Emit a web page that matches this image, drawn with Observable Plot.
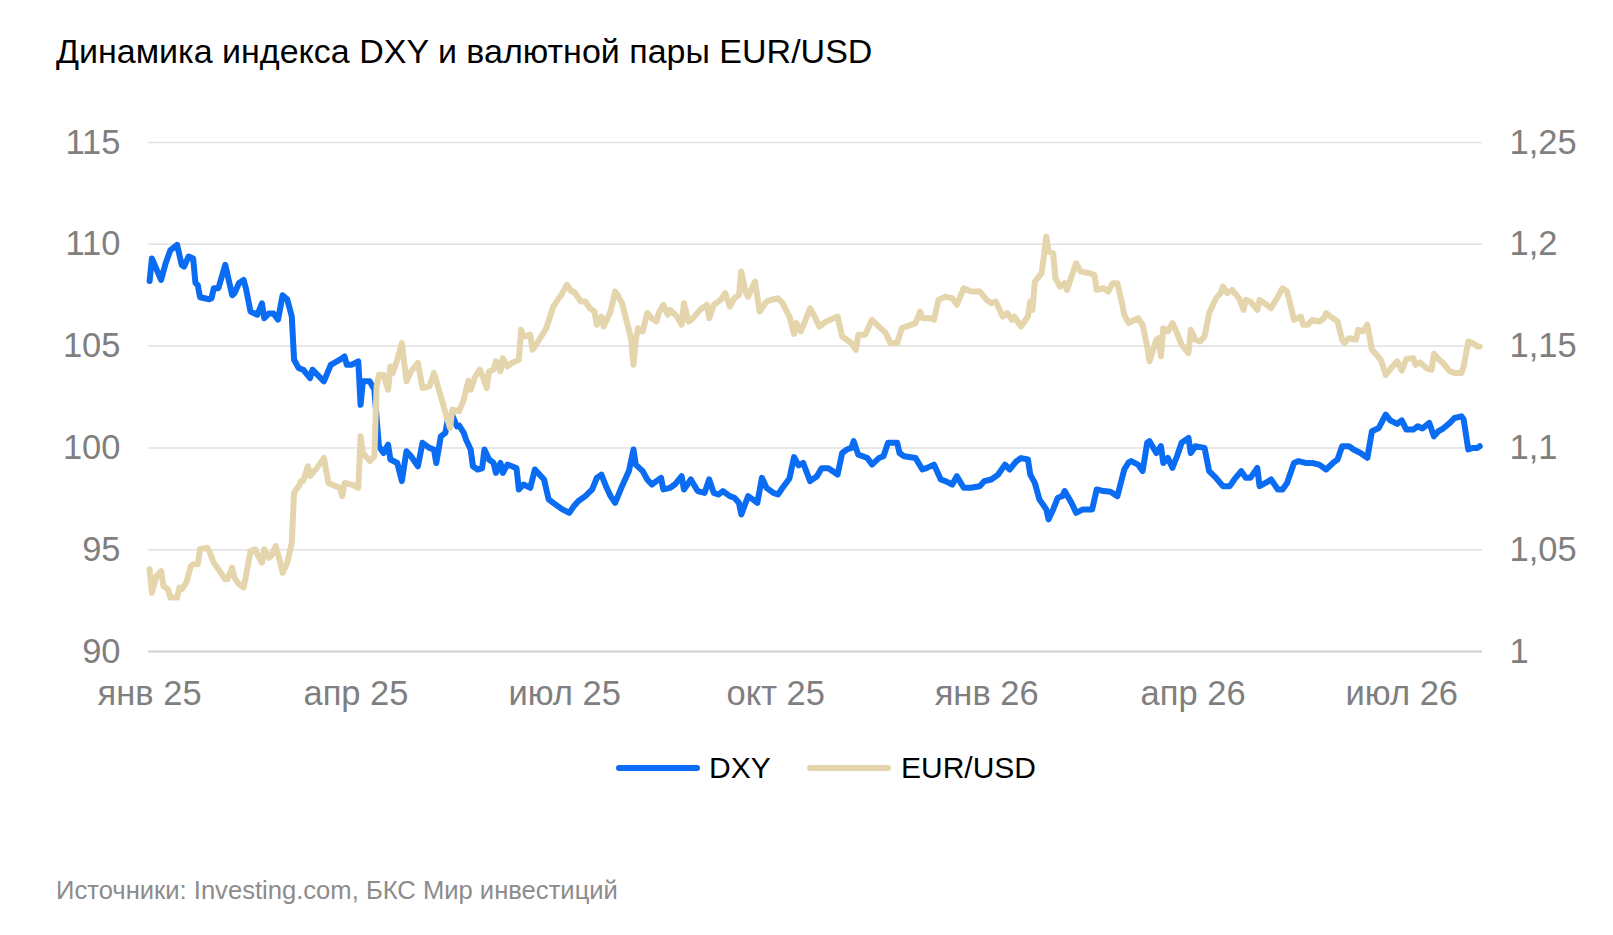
<!DOCTYPE html>
<html>
<head>
<meta charset="utf-8">
<script src="https://cdn.jsdelivr.net/npm/d3@7"></script>
<script src="https://cdn.jsdelivr.net/npm/@observablehq/plot@0.6"></script>
<style>
  html, body { margin: 0; padding: 0; background: #fff; }
  body { width: 1613px; height: 935px; position: relative; overflow: hidden; font-family: "Liberation Sans", Arial, sans-serif; }
  #title { position: absolute; left: 56px; top: 34px; font-size: 34px; line-height: 34px; color: #000; white-space: nowrap; }
  #chart { position: absolute; left: 0; top: 100px; }
  .sw { position: absolute; top: 765px; height: 6px; border-radius: 3px; width: 84px; }
  .lt { position: absolute; top: 753px; font-size: 30px; line-height: 30px; color: #000; white-space: nowrap; }
  #footer { position: absolute; left: 56px; top: 877px; font-size: 25.6px; line-height: 26px; color: #8c8c8c; white-space: nowrap; }
</style>
</head>
<body>
<div id="title"></div>
<div id="chart"></div>
<div id="legend"></div>
<div id="footer"></div>
<script>
const titleText = "Динамика индекса DXY и валютной пары EUR/USD";
const footerText = "Источники: Investing.com, БКС Мир инвестиций";
const seriesNames = ["DXY", "EUR/USD"];
const seriesColors = ["#0a6cf2", "#e5d5ac"];

const yTicks = [90, 95, 100, 105, 110, 115];
const eurTicks = [1, 1.05, 1.1, 1.15, 1.2, 1.25];
const eurTickLabels = ["1", "1,05", "1,1", "1,15", "1,2", "1,25"];
const xTickDates = ["2025-01-01", "2025-04-01", "2025-07-01", "2025-10-01", "2026-01-01", "2026-04-01", "2026-07-01"];
const xTickLabels = ["янв 25", "апр 25", "июл 25", "окт 25", "янв 26", "апр 26", "июл 26"];

const dxyDates = [
"2025-01-01","2025-01-02","2025-01-06","2025-01-08","2025-01-10","2025-01-13","2025-01-15","2025-01-16","2025-01-18","2025-01-20",
"2025-01-21","2025-01-22","2025-01-23","2025-01-27","2025-01-28","2025-01-29","2025-01-31","2025-02-03","2025-02-06","2025-02-07",
"2025-02-09","2025-02-11","2025-02-12","2025-02-14","2025-02-17","2025-02-19","2025-02-20","2025-02-22","2025-02-24","2025-02-26",
"2025-02-28","2025-03-02","2025-03-04","2025-03-05","2025-03-07","2025-03-09","2025-03-12","2025-03-13","2025-03-18","2025-03-21",
"2025-03-25","2025-03-27","2025-03-28","2025-03-30","2025-04-02","2025-04-03","2025-04-04","2025-04-07","2025-04-09","2025-04-11",
"2025-04-13","2025-04-15","2025-04-16","2025-04-19","2025-04-21","2025-04-23","2025-04-25","2025-04-28","2025-04-30","2025-05-03",
"2025-05-05","2025-05-06","2025-05-08","2025-05-10","2025-05-11","2025-05-13","2025-05-15","2025-05-16","2025-05-18","2025-05-19",
"2025-05-21","2025-05-22","2025-05-24","2025-05-26","2025-05-27","2025-05-29","2025-05-31","2025-06-01","2025-06-03","2025-06-04",
"2025-06-06","2025-06-08","2025-06-10","2025-06-11","2025-06-13","2025-06-16","2025-06-18","2025-06-20","2025-06-22","2025-06-24",
"2025-06-26","2025-06-30","2025-07-03","2025-07-05","2025-07-07","2025-07-10","2025-07-13","2025-07-15","2025-07-17","2025-07-19",
"2025-07-21","2025-07-23","2025-07-26","2025-07-29","2025-07-31","2025-08-01","2025-08-04","2025-08-06","2025-08-08","2025-08-10",
"2025-08-12","2025-08-13","2025-08-16","2025-08-18","2025-08-21","2025-08-22","2025-08-25","2025-08-28","2025-08-31","2025-09-02",
"2025-09-04","2025-09-06","2025-09-08","2025-09-11","2025-09-13","2025-09-15","2025-09-16","2025-09-19","2025-09-21","2025-09-23",
"2025-09-25","2025-09-27","2025-09-30","2025-10-02","2025-10-04","2025-10-07","2025-10-09","2025-10-11","2025-10-13","2025-10-16",
"2025-10-19","2025-10-21","2025-10-24","2025-10-28","2025-10-30","2025-11-01","2025-11-03","2025-11-04","2025-11-06","2025-11-08",
"2025-11-10","2025-11-12","2025-11-15","2025-11-17","2025-11-19","2025-11-23","2025-11-24","2025-11-26","2025-12-01","2025-12-04",
"2025-12-06","2025-12-09","2025-12-12","2025-12-14","2025-12-17","2025-12-19","2025-12-22","2025-12-25","2025-12-29","2025-12-31",
"2026-01-03","2026-01-06","2026-01-09","2026-01-11","2026-01-14","2026-01-16","2026-01-19","2026-01-20","2026-01-22","2026-01-24",
"2026-01-27","2026-01-28","2026-01-30","2026-02-01","2026-02-03","2026-02-04","2026-02-07","2026-02-09","2026-02-12","2026-02-16",
"2026-02-18","2026-02-21","2026-02-24","2026-02-27","2026-03-02","2026-03-04","2026-03-05","2026-03-08","2026-03-10","2026-03-12",
"2026-03-13","2026-03-16","2026-03-18","2026-03-19","2026-03-21","2026-03-23","2026-03-25","2026-03-27","2026-03-30","2026-03-31",
"2026-04-02","2026-04-06","2026-04-08","2026-04-11","2026-04-14","2026-04-17","2026-04-19","2026-04-22","2026-04-24","2026-04-26",
"2026-04-29","2026-04-30","2026-05-04","2026-05-05","2026-05-08","2026-05-10","2026-05-12","2026-05-15","2026-05-17","2026-05-20",
"2026-05-23","2026-05-26","2026-05-29","2026-06-01","2026-06-03","2026-06-05","2026-06-08","2026-06-10","2026-06-13","2026-06-16",
"2026-06-18","2026-06-21","2026-06-24","2026-06-26","2026-06-29","2026-07-01","2026-07-03","2026-07-06","2026-07-08","2026-07-10",
"2026-07-13","2026-07-15","2026-07-17","2026-07-19","2026-07-22","2026-07-24","2026-07-27","2026-07-28","2026-07-30","2026-08-01",
"2026-08-03","2026-08-04"
];
const dxyValues = [
108.2,109.3,108.25,109.07,109.7,109.97,108.99,108.9,109.4,109.3,
108.1,108.0,107.4,107.3,107.35,107.84,107.84,108.99,107.5,107.6,
108.1,108.25,107.84,106.7,106.54,107.1,106.37,106.6,106.6,106.3,
107.5,107.3,106.45,104.33,103.92,103.84,103.43,103.84,103.27,104.08,
104.33,104.49,104.08,104.08,104.25,102.12,103.27,103.27,102.86,100.08,
99.75,100.16,99.43,99.26,98.37,99.84,99.59,99.1,100.25,100.0,
99.92,99.26,100.57,100.74,101.39,101.6,101.06,101.1,100.74,100.4,
99.92,99.1,98.94,99.0,99.92,99.43,99.26,98.77,99.26,98.77,
99.18,99.1,99.0,97.96,98.2,98.04,98.94,98.69,98.45,97.47,
97.3,96.98,96.81,97.14,97.39,97.63,97.96,98.53,98.69,98.12,
97.63,97.3,98.12,98.86,99.92,99.18,98.86,98.45,98.2,98.37,
98.53,97.96,98.04,98.2,98.61,97.96,98.45,97.88,97.79,98.45,
97.79,97.71,97.88,97.63,97.55,97.3,96.73,97.63,97.47,97.3,
98.53,98.04,97.79,97.71,98.04,98.5,99.55,99.14,99.26,98.37,
98.61,99.0,99.0,98.69,99.75,99.92,100.0,100.33,99.67,99.59,
99.5,99.18,99.5,99.59,100.25,100.25,99.75,99.59,99.5,98.94,
99.02,99.18,98.45,98.37,98.2,98.61,98.04,98.04,98.12,98.37,
98.45,98.69,99.18,98.94,99.35,99.5,99.43,98.69,98.28,97.47,
96.98,96.49,96.98,97.55,97.63,97.88,97.3,96.81,96.98,96.98,
97.96,97.88,97.85,97.63,98.94,99.3,99.35,99.18,98.86,100.25,
100.33,99.75,100.08,99.26,99.51,99.02,99.59,100.25,100.49,99.75,
100.08,100.0,98.86,98.53,98.12,98.12,98.45,98.86,98.53,98.53,
99.02,98.12,98.37,98.45,97.96,97.96,98.28,99.26,99.35,99.26,
99.26,99.18,98.94,99.26,99.43,100.08,100.08,99.92,99.75,99.51,
100.82,100.98,101.63,101.35,101.18,101.35,100.9,100.9,101.06,100.95,
101.23,100.57,100.82,100.95,101.23,101.47,101.55,101.39,99.92,100.0,
100.0,100.08
];

const eurDates = [
"2025-01-01","2025-01-02","2025-01-04","2025-01-06","2025-01-07","2025-01-09","2025-01-10","2025-01-13","2025-01-14","2025-01-15",
"2025-01-17","2025-01-19","2025-01-20","2025-01-22","2025-01-23","2025-01-26","2025-01-27","2025-01-29","2025-01-31","2025-02-03",
"2025-02-04","2025-02-06","2025-02-07","2025-02-09","2025-02-11","2025-02-12","2025-02-14","2025-02-16","2025-02-17","2025-02-19",
"2025-02-20","2025-02-22","2025-02-23","2025-02-25","2025-02-27","2025-02-28","2025-03-02","2025-03-04","2025-03-05","2025-03-07",
"2025-03-08","2025-03-09","2025-03-11","2025-03-12","2025-03-15","2025-03-18","2025-03-20","2025-03-23","2025-03-25","2025-03-26",
"2025-03-27","2025-03-30","2025-04-02","2025-04-03","2025-04-04","2025-04-07","2025-04-09","2025-04-10","2025-04-11","2025-04-13",
"2025-04-15","2025-04-16","2025-04-17","2025-04-19","2025-04-21","2025-04-23","2025-04-25","2025-04-28","2025-04-30","2025-05-03",
"2025-05-05","2025-05-08","2025-05-10","2025-05-12","2025-05-13","2025-05-16","2025-05-18","2025-05-20","2025-05-21","2025-05-23",
"2025-05-25","2025-05-26","2025-05-28","2025-05-29","2025-05-31","2025-06-01","2025-06-03","2025-06-04","2025-06-06","2025-06-08",
"2025-06-11","2025-06-12","2025-06-13","2025-06-16","2025-06-17","2025-06-19","2025-06-23","2025-06-26","2025-06-30","2025-07-02",
"2025-07-04","2025-07-05","2025-07-08","2025-07-10","2025-07-12","2025-07-14","2025-07-15","2025-07-17","2025-07-18","2025-07-21",
"2025-07-23","2025-07-24","2025-07-26","2025-07-29","2025-07-30","2025-07-31","2025-08-01","2025-08-02","2025-08-04","2025-08-06",
"2025-08-08","2025-08-10","2025-08-11","2025-08-13","2025-08-15","2025-08-16","2025-08-19","2025-08-21","2025-08-22","2025-08-24",
"2025-08-26","2025-08-29","2025-09-01","2025-09-02","2025-09-04","2025-09-07","2025-09-09","2025-09-11","2025-09-13","2025-09-15",
"2025-09-16","2025-09-18","2025-09-19","2025-09-22","2025-09-24","2025-09-27","2025-09-29","2025-10-02","2025-10-04","2025-10-07",
"2025-10-09","2025-10-10","2025-10-12","2025-10-16","2025-10-18","2025-10-20","2025-10-23","2025-10-28","2025-10-30","2025-11-01",
"2025-11-03","2025-11-05","2025-11-06","2025-11-09","2025-11-12","2025-11-15","2025-11-18","2025-11-20","2025-11-23","2025-11-25",
"2025-12-01","2025-12-03","2025-12-04","2025-12-08","2025-12-09","2025-12-11","2025-12-14","2025-12-17","2025-12-19","2025-12-22",
"2025-12-25","2025-12-29","2026-01-01","2026-01-03","2026-01-05","2026-01-08","2026-01-10","2026-01-12","2026-01-13","2026-01-16",
"2026-01-19","2026-01-20","2026-01-21","2026-01-22","2026-01-25","2026-01-27","2026-01-28","2026-01-30","2026-01-31","2026-02-02",
"2026-02-04","2026-02-05","2026-02-09","2026-02-11","2026-02-15","2026-02-17","2026-02-18","2026-02-21","2026-02-23","2026-02-25",
"2026-02-27","2026-03-01","2026-03-02","2026-03-04","2026-03-05","2026-03-08","2026-03-10","2026-03-12","2026-03-13","2026-03-16",
"2026-03-17","2026-03-18","2026-03-19","2026-03-21","2026-03-23","2026-03-25","2026-03-27","2026-03-30","2026-03-31","2026-04-02",
"2026-04-04","2026-04-06","2026-04-08","2026-04-11","2026-04-13","2026-04-14","2026-04-16","2026-04-18","2026-04-21","2026-04-23",
"2026-04-24","2026-04-26","2026-04-29","2026-04-30","2026-05-03","2026-05-05","2026-05-08","2026-05-10","2026-05-12","2026-05-14",
"2026-05-15","2026-05-18","2026-05-19","2026-05-21","2026-05-23","2026-05-26","2026-05-28","2026-05-29","2026-05-31","2026-06-03",
"2026-06-05","2026-06-06","2026-06-08","2026-06-11","2026-06-12","2026-06-14","2026-06-16","2026-06-18","2026-06-20","2026-06-22",
"2026-06-24","2026-06-27","2026-06-29","2026-07-01","2026-07-03","2026-07-06","2026-07-07","2026-07-09","2026-07-12","2026-07-14",
"2026-07-15","2026-07-17","2026-07-19","2026-07-22","2026-07-24","2026-07-27","2026-07-28","2026-07-30","2026-08-01","2026-08-03",
"2026-08-04"
];
const eurValues = [
1.0404,1.0289,1.0371,1.0395,1.0322,1.0306,1.0265,1.0265,1.0314,1.0306,
1.0338,1.042,1.0428,1.0428,1.0502,1.051,1.0493,1.0436,1.0404,1.0355,
1.0355,1.0412,1.0363,1.033,1.0314,1.0371,1.0493,1.0502,1.0477,1.0436,
1.0502,1.046,1.0469,1.0518,1.0436,1.0387,1.0436,1.0534,1.078,1.0812,
1.0837,1.0837,1.091,1.0861,1.0902,1.0951,1.0828,1.0812,1.0804,1.0763,
1.0828,1.082,1.0804,1.1057,1.0975,1.0935,1.0959,1.1302,1.1359,1.1359,
1.1286,1.14,1.1368,1.1433,1.1515,1.1327,1.1376,1.1417,1.1294,1.1302,
1.1368,1.1253,1.1172,1.1098,1.1188,1.118,1.1237,1.133,1.1286,1.1351,
1.1384,1.1359,1.1294,1.1376,1.1384,1.1425,1.1376,1.1441,1.14,1.1417,
1.1433,1.158,1.1547,1.1556,1.1482,1.1515,1.1588,1.1694,1.176,1.1801,
1.1768,1.1768,1.1719,1.1719,1.1686,1.167,1.1605,1.1645,1.1596,1.167,
1.1768,1.1752,1.1711,1.158,1.1531,1.1408,1.1531,1.1588,1.1572,1.1662,
1.1637,1.1621,1.1662,1.1703,1.1654,1.1678,1.1645,1.1605,1.1711,1.1621,
1.1637,1.1678,1.1703,1.1637,1.1703,1.1727,1.176,1.1694,1.1735,1.1752,
1.1866,1.176,1.1743,1.1817,1.167,1.1719,1.1727,1.1735,1.1711,1.1645,
1.156,1.1613,1.1572,1.1686,1.1645,1.1596,1.1621,1.1645,1.1547,1.1531,
1.1515,1.1482,1.1556,1.1556,1.1629,1.1596,1.1564,1.1515,1.1515,1.1588,
1.1613,1.167,1.1637,1.1637,1.1629,1.1727,1.1743,1.1735,1.1703,1.1784,
1.1768,1.1768,1.1727,1.1711,1.1719,1.1645,1.1662,1.1629,1.1645,1.1596,
1.1645,1.1719,1.1678,1.1817,1.1858,1.2038,1.1964,1.1956,1.1833,1.1792,
1.1809,1.1776,1.1907,1.1866,1.1858,1.185,1.1776,1.1784,1.1768,1.1809,
1.1809,1.1711,1.1654,1.1613,1.1621,1.1637,1.1605,1.1498,1.1425,1.1531,
1.1539,1.1449,1.1588,1.1572,1.1613,1.1564,1.1507,1.1466,1.158,1.1531,
1.1523,1.1547,1.1662,1.1735,1.176,1.1792,1.176,1.1776,1.1735,1.1678,
1.1727,1.1719,1.1678,1.1727,1.1703,1.1686,1.1743,1.1784,1.1768,1.1678,
1.1629,1.1645,1.1605,1.1605,1.1629,1.1621,1.1637,1.1662,1.1645,1.1621,
1.1531,1.1515,1.1539,1.1531,1.158,1.1572,1.1605,1.1482,1.1458,1.143,
1.1359,1.14,1.1425,1.138,1.1437,1.1441,1.1408,1.142,1.139,1.1384,
1.1462,1.1437,1.1417,1.1376,1.1368,1.1368,1.14,1.1523,1.1515,1.1498,
1.1498
];

// EUR/USD is drawn against the right-hand axis: 1 ↔ 90, 1.25 ↔ 115 on the shared y scale
const eurToY = v => 90 + (v - 1) * 100;

const parse = d3.utcParse("%Y-%m-%d");
const dxy = dxyDates.map((d, i) => ({date: parse(d), y: dxyValues[i]}));
const eur = eurDates.map((d, i) => ({date: parse(d), y: eurToY(eurValues[i])}));
const xTicks = xTickDates.map(parse);
const rightTicks = eurTicks.map(eurToY);

const FONT = "'Liberation Sans', Arial, sans-serif";
const TICK_FS = 34.5;

const chart = Plot.plot({
  width: 1613,
  height: 621,
  marginLeft: 148,
  marginRight: 131,
  marginTop: 42,
  marginBottom: 70,
  style: {fontFamily: FONT, fontSize: TICK_FS + "px", background: "transparent", overflow: "visible"},
  x: {type: "utc", domain: [new Date(Date.UTC(2024, 11, 31, 12, 30)), new Date(Date.UTC(2026, 7, 5, 5))]},
  y: {domain: [90, 115]},
  marks: [
    Plot.ruleY(yTicks.filter(v => v > 90), {stroke: "#e1e1e1", strokeWidth: 1.5}),
    Plot.ruleY([90], {stroke: "#d0d0d0", strokeWidth: 2}),
    Plot.axisY(yTicks, {anchor: "left", tickSize: 0, tickPadding: 28, label: null, fill: "#7f7f7f", fontSize: TICK_FS, tickFormat: d => String(d)}),
    Plot.axisY(rightTicks, {anchor: "right", tickSize: 0, tickPadding: 27, label: null, fill: "#7f7f7f", fontSize: TICK_FS,
      tickFormat: d => eurTickLabels[rightTicks.indexOf(d)]}),
    Plot.axisX(xTicks, {anchor: "bottom", tickSize: 0, tickPadding: 29, label: null, fill: "#7f7f7f", fontSize: TICK_FS,
      tickFormat: d => xTickLabels[xTicks.findIndex(t => +t === +d)]}),
    Plot.lineY(dxy, {x: "date", y: "y", stroke: seriesColors[0], strokeWidth: 6, strokeLinejoin: "round", strokeLinecap: "round"}),
    Plot.lineY(eur, {x: "date", y: "y", stroke: seriesColors[1], strokeWidth: 6, strokeLinejoin: "round", strokeLinecap: "round"})
  ]
});
document.getElementById("chart").appendChild(chart);

document.getElementById("title").textContent = titleText;
document.getElementById("footer").textContent = footerText;

const legend = document.getElementById("legend");
const swLeft = [616, 807], txLeft = [709, 901];
seriesNames.forEach((name, i) => {
  const sw = document.createElement("div");
  sw.className = "sw";
  sw.style.left = swLeft[i] + "px";
  sw.style.background = seriesColors[i];
  legend.appendChild(sw);
  const t = document.createElement("div");
  t.className = "lt";
  t.style.left = txLeft[i] + "px";
  t.textContent = name;
  legend.appendChild(t);
});
</script>
</body>
</html>
